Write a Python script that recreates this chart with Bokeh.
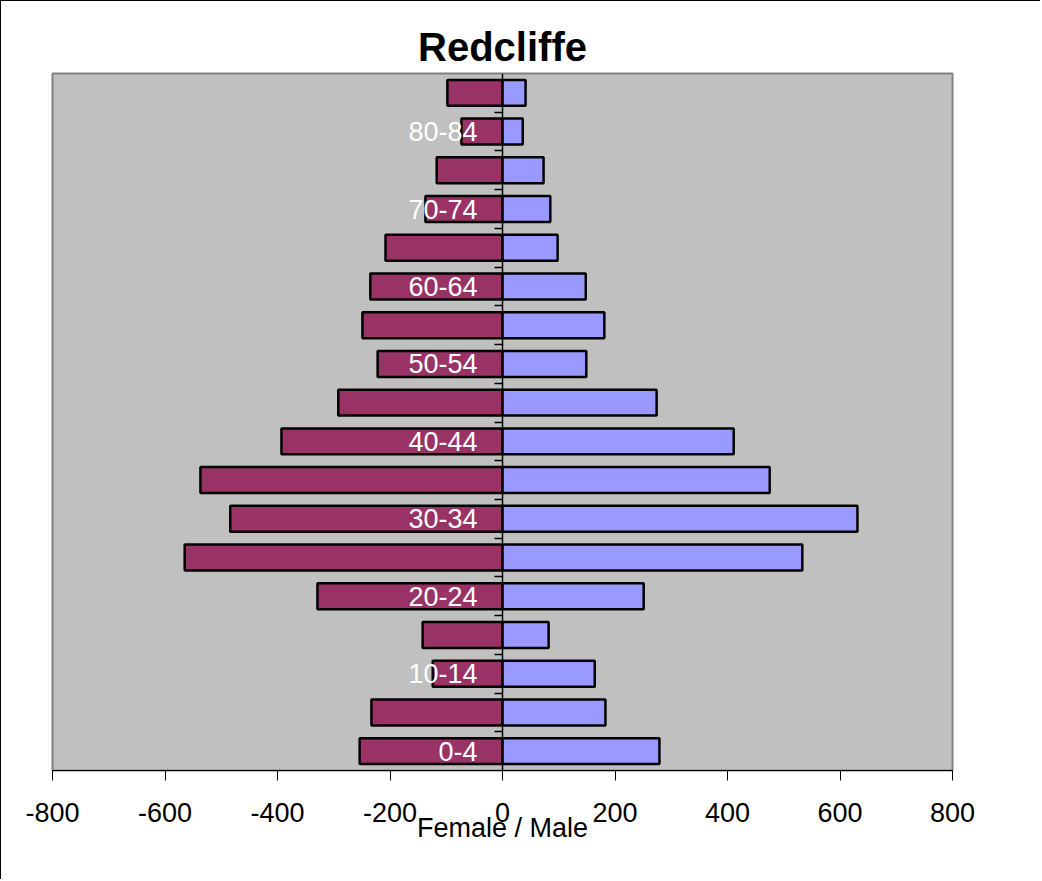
from bokeh.plotting import figure
from bokeh.models import ColumnDataSource, FixedTicker
from bokeh.core.properties import value
from bokeh.embed import file_html
from bokeh.resources import INLINE

age_groups = ["0-4", "5-9", "10-14", "15-19", "20-24", "25-29", "30-34", "35-39",
              "40-44", "45-49", "50-54", "55-59", "60-64", "65-69", "70-74",
              "75-79", "80-84", "85+"]
female = [-254, -233, -124, -142, -329, -565, -484, -537, -393, -292, -222,
          -249, -235, -208, -137, -117, -73, -98]
male = [279, 183, 164, 82, 251, 533, 631, 475, 411, 274, 149, 181, 148, 98,
        85, 73, 36, 41]
x_ticks = [-800, -600, -400, -200, 0, 200, 400, 600, 800]

FONT = "Liberation Sans"
n = len(age_groups)
idx = list(range(n))

src = ColumnDataSource(dict(y=idx, female=female, male=male, zero=[0] * n,
                            label=age_groups))

p = figure(width=1040, height=879, x_range=(-800, 800), y_range=(-0.5, n - 0.5),
           output_backend="svg", toolbar_location=None,
           min_border_left=51, min_border_right=89, min_border_top=72,
           min_border_bottom=110)
p.styles = {"border-left": "1px solid black", "border-top": "1px solid black"}

p.title.text = "Redcliffe"
p.title.align = "center"
p.title.text_font = FONT
p.title.text_font_size = "40px"
p.title.text_font_style = "bold"
p.title.text_color = "black"
p.title.standoff = 10

p.background_fill_color = "#C0C0C0"
p.border_fill_color = "white"
p.outline_line_color = "#808080"
p.outline_line_width = 2
p.xgrid.visible = False
p.ygrid.visible = False

p.hbar(y="y", left="female", right="zero", height=0.67, source=src,
       fill_color="#993366", line_color="black", line_width=2.5)
p.hbar(y="y", left="zero", right="male", height=0.67, source=src,
       fill_color="#9999FF", line_color="black", line_width=2.5)

# x axis
xa = p.xaxis[0]
xa.ticker = FixedTicker(ticks=x_ticks)
xa.major_label_overrides = {t: str(t) for t in x_ticks}
xa.minor_tick_line_color = None
xa.major_tick_in = 0
xa.major_tick_out = 10
xa.major_tick_line_color = "black"
xa.axis_line_color = "black"
xa.major_label_text_font = FONT
xa.major_label_text_font_size = "27px"
xa.major_label_text_color = "black"
xa.major_label_standoff = 22
xa.axis_label = "Female / Male"
xa.axis_label_text_font = FONT
xa.axis_label_text_font_size = "27px"
xa.axis_label_text_font_style = "normal"
xa.axis_label_text_color = "black"
xa.axis_label_standoff = -12

# y axis drawn at x = 0 with ticks at category boundaries
ya = p.yaxis[0]
ya.fixed_location = 0
boundaries = [i - 0.5 for i in range(1, n)]
ya.ticker = FixedTicker(ticks=boundaries)
ya.major_label_overrides = {b: "" for b in boundaries}
ya.minor_tick_line_color = None
ya.major_tick_in = 0
ya.major_tick_out = 8
ya.major_tick_line_color = "black"
ya.major_tick_line_width = 1.5
ya.axis_line_color = "black"
ya.axis_line_width = 1.5

# category labels (every other group), white, inside the plot
lab = ColumnDataSource(dict(y=idx[::2], zero=[0] * len(idx[::2]),
                            label=age_groups[::2]))
p.text(x="zero", y="y", text="label", source=lab, x_offset=-25,
       text_align="right", text_baseline="middle", text_color="white",
       text_font=value(FONT), text_font_size="27px")

open("out.html", "w").write(file_html(p, INLINE))
